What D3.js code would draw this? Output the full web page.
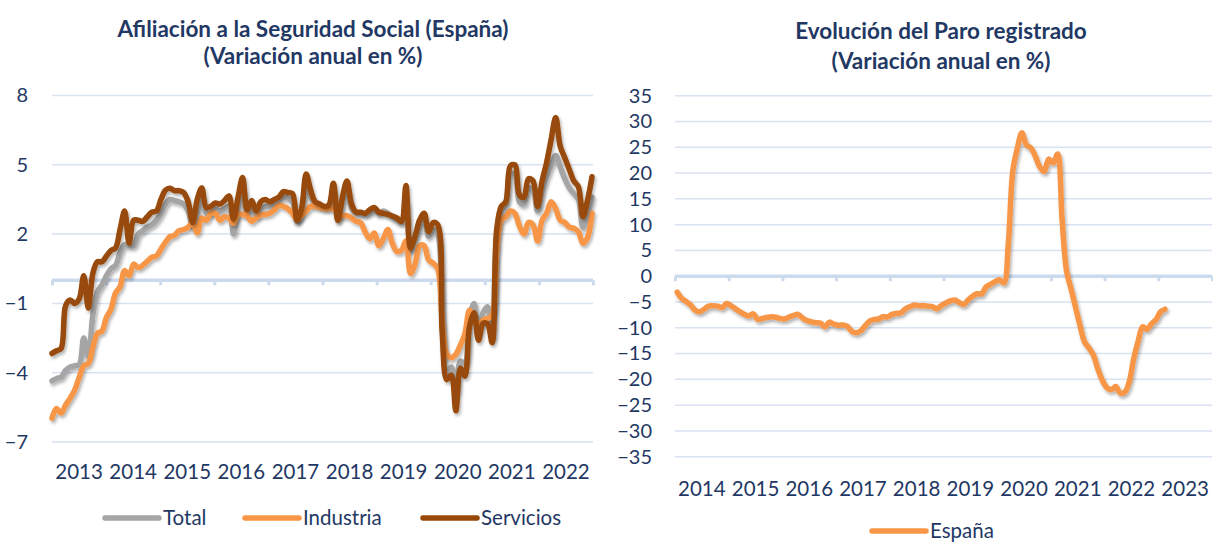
<!DOCTYPE html>
<html><head><meta charset="utf-8">
<script src="https://cdn.jsdelivr.net/npm/d3@7"></script>
<style>
body{margin:0;background:#fff}
svg{display:block}
text{font-family:Lato,"Open Sans",sans-serif}
</style>
</head><body>
<svg id="c" width="1213" height="543"></svg>
<script>
// ---------- DATA ----------
const afilTitle = ["Afiliación a la Seguridad Social (España)", "(Variación anual en %)"];
const afilYears = [2013,2014,2015,2016,2017,2018,2019,2020,2021,2022];
const afilTicks = [-7,-4,-1,2,5,8];
// monthly, Jan 2013 - Dec 2022
const totalValues = [
-4.35,-4.25,-4.2,-3.9,-3.75,-3.7,-3.65,-2.5,-3.3,-1.5,-0.5,-0.2,
0.2,0.5,0.65,1.2,1.55,1.5,1.5,2.0,2.15,2.3,2.4,2.6,
2.9,3.3,3.5,3.45,3.4,3.3,3.0,2.3,2.9,3.6,2.9,2.9,
3.1,3.0,3.1,3.2,2.0,3.2,3.9,2.8,3.1,2.8,3.1,3.2,
3.2,3.3,3.45,3.6,3.55,3.4,2.55,3.0,4.2,3.6,3.3,3.25,
3.2,3.2,3.9,2.6,3.4,3.9,3.1,2.9,2.9,2.85,2.95,3.05,
2.9,3.0,2.9,2.75,2.6,2.5,3.4,1.3,1.8,2.3,2.6,1.9,
2.2,2.0,-2.0,-4.0,-3.75,-4.9,-3.5,-3.6,-1.6,-1.0,-2.2,-1.4,
-1.15,-2.5,2.0,3.0,3.3,4.6,4.6,3.4,3.3,4.0,3.9,3.0,
3.9,4.5,5.0,5.4,4.9,4.4,4.0,3.75,3.5,2.3,2.8,3.6];
const industriaValues = [
-5.97,-5.55,-5.75,-5.4,-5.1,-4.75,-4.2,-3.7,-3.6,-2.9,-2.3,-2.2,
-1.6,-1.25,-0.55,-0.28,0.42,0.2,0.7,0.55,0.65,0.82,1.0,1.05,
1.35,1.65,1.89,1.95,2.15,2.2,2.3,2.5,2.05,2.7,2.6,2.9,
2.9,2.6,2.75,2.7,2.47,2.85,2.85,2.8,2.55,2.7,2.83,2.85,
2.9,3.05,3.25,3.2,3.1,2.9,2.61,2.8,3.0,3.2,3.2,3.15,
3.1,3.1,3.1,2.9,2.8,2.8,2.7,2.55,2.5,2.1,1.8,2.05,
1.5,1.8,2.2,1.6,1.25,1.3,1.7,0.3,0.7,1.5,1.5,0.88,
0.74,0.5,-1.8,-3.2,-3.35,-3.2,-2.8,-2.3,-1.3,-1.7,-1.9,-1.72,
-1.65,-1.5,1.2,2.6,2.75,3.0,2.9,2.35,2.0,2.5,2.4,1.7,
2.6,2.9,3.4,3.1,2.6,2.5,2.3,2.25,2.1,1.6,1.85,2.9];
const serviciosValues = [
-3.16,-3.05,-2.95,-1.1,-0.85,-1.0,-0.8,0.2,-1.2,0.3,0.8,0.8,
1.05,1.3,1.4,2.2,3.0,1.6,2.6,2.6,2.55,2.75,2.95,3.0,
3.5,3.9,3.98,3.88,3.88,3.8,3.4,2.5,3.5,4.0,3.15,3.2,
3.35,3.3,3.45,3.65,2.65,3.6,4.45,3.05,3.45,3.0,3.4,3.5,
3.4,3.5,3.6,3.84,3.8,3.75,2.6,3.1,4.6,3.9,3.4,3.3,
3.2,3.25,4.2,2.6,3.6,4.3,3.3,2.95,2.95,2.9,3.05,3.15,
2.95,2.9,2.85,2.78,2.7,2.55,4.1,1.4,1.9,2.6,2.9,2.1,
2.5,2.4,-2.3,-4.3,-4.1,-5.65,-3.8,-4.15,-2.0,-1.4,-2.6,-1.86,
-1.9,-2.7,2.2,3.2,3.4,4.95,5.0,3.7,3.6,4.4,4.3,3.2,
4.3,5.1,6.1,7.05,5.8,5.3,4.8,4.3,4.05,2.75,3.45,4.48];
const afilSeries = ["Total","Industria","Servicios"];
const afilColors = ["#A5A5A5","#F79646","#984807"];

const paroTitle = ["Evolución del Paro registrado", "(Variación anual en %)"];
const paroYears = [2014,2015,2016,2017,2018,2019,2020,2021,2022,2023];
const paroTicks = [-35,-30,-25,-20,-15,-10,-5,0,5,10,15,20,25,30,35];
// monthly, Jan 2014 - Feb 2023
const espanaValues = [
-3.1,-4.3,-4.9,-5.6,-6.6,-6.9,-6.4,-5.8,-5.75,-5.8,-6.1,-5.3,
-5.7,-6.3,-6.9,-7.4,-7.7,-7.3,-8.4,-8.2,-8.0,-7.85,-7.95,-8.2,
-8.3,-7.9,-7.6,-7.4,-8.1,-8.6,-8.85,-9.0,-9.1,-9.8,-8.9,-9.3,
-9.5,-9.45,-9.7,-10.7,-10.95,-10.6,-9.6,-8.7,-8.4,-8.3,-7.85,-7.9,
-7.4,-7.2,-7.1,-6.3,-5.9,-5.6,-5.75,-5.7,-5.8,-5.9,-6.3,-5.7,
-5.2,-4.8,-4.6,-5.1,-5.5,-4.6,-3.9,-3.4,-3.4,-2.1,-1.6,-1.05,
-0.7,-1.3,6.5,20.5,24.8,27.8,25.5,24.9,23.3,21.2,20.3,22.7,
22.0,23.7,11.0,1.0,-2.4,-6.0,-9.5,-12.7,-13.9,-15.3,-18.0,-20.2,
-21.6,-22.0,-21.4,-22.7,-22.5,-20.5,-16.0,-12.6,-9.8,-10.3,-9.2,-8.4,
-6.9,-6.4];
const paroSeries = ["España"];
const paroColor = "#F79646";

// ---------- DRAW ----------
const svg = d3.select("#c");
const navy = "#1F3864";
const gridCol = "#D9E2F1";
const axisCol = "#CCDAEE";

const defs = svg.append("defs");
const f = defs.append("filter").attr("id","sh").attr("x","-5%").attr("y","-5%").attr("width","110%").attr("height","115%");
f.append("feDropShadow").attr("dx",1.5).attr("dy",2.5).attr("stdDeviation",1.6)
  .attr("flood-color","#000").attr("flood-opacity",0.3);

function title(lines, cx, ys){
  lines.forEach((t,i)=>svg.append("text").attr("x",cx).attr("y",ys[i])
    .attr("text-anchor","middle").attr("font-weight","bold").attr("font-size",22.5)
    .attr("fill",navy).text(t));
}

function panel(o){
  const g = svg.append("g");
  const y = d3.scaleLinear().domain(o.yDomain).range(o.yRange);
  const xy = d3.scaleLinear().domain([o.years[0], o.years[o.years.length-1]+1]).range(o.xRange);
  // gridlines
  g.append("g").selectAll("line").data(o.ticks.filter(d=>d!==0)).join("line")
    .attr("x1",o.xRange[0]).attr("x2",o.xRange[1])
    .attr("y1",d=>y(d)).attr("y2",d=>y(d))
    .attr("stroke",gridCol).attr("stroke-width",1.5);
  // y axis labels
  const ya = d3.axisLeft(y).tickValues(o.ticks).tickSize(0).tickPadding(0).tickFormat(d3.format("d"));
  const yg = g.append("g").attr("transform",`translate(${o.yLabelX},0)`).call(ya);
  yg.select(".domain").remove();
  yg.selectAll("text").attr("font-size",o.yFont).attr("fill",navy).attr("font-family","Lato");
  // zero axis with ticks
  const xa = d3.axisBottom(xy).tickValues(d3.range(o.years[0], o.years[o.years.length-1]+2)).tickSize(5).tickFormat("");
  const xg = g.append("g").attr("transform",`translate(0,${y(0)})`).call(xa);
  xg.select(".domain").attr("stroke",axisCol).attr("stroke-width",3.5).attr("d",`M${o.xRange[0]},0H${o.xRange[1]}`);
  xg.selectAll(".tick line").attr("stroke",axisCol).attr("stroke-width",3);
  // year labels (centered within each year)
  g.append("g").selectAll("text").data(o.years).join("text")
    .attr("x",d=>xy(d+0.5)).attr("y",o.yearY).attr("text-anchor","middle")
    .attr("font-size",o.xFont).attr("fill",navy).text(d=>d);
  // lines
  o.series.forEach(s=>{
    g.append("path").datum(s.values)
      .attr("fill","none").attr("stroke",s.color).attr("stroke-width",5.5)
      .attr("stroke-linejoin","round").attr("stroke-linecap","round")
      .attr("filter","url(#sh)")
      .attr("d", d3.line().x((d,i)=>o.xPoint(i)).y(d=>y(d)).curve(d3.curveCatmullRom.alpha(0.5)));
  });
}

// Left panel
const xIdxL = d3.scaleLinear().domain([0, totalValues.length-1]).range([52, 592]);
panel({
  yDomain:[-7,8], yRange:[442,95.5], xRange:[52,593], years:afilYears, ticks:afilTicks,
  yLabelX:28, yFont:20, xFont:20.5, yearY:479,
  xPoint:i=>xIdxL(i),
  series:[
    {values:totalValues, color:afilColors[0]},
    {values:industriaValues, color:afilColors[1]},
    {values:serviciosValues, color:afilColors[2]}
  ]
});
// Right panel
const xYrR = d3.scaleLinear().domain([2014,2024]).range([675,1212]);
panel({
  yDomain:[-35,35], yRange:[456.7,95.7], xRange:[675,1212], years:paroYears, ticks:paroTicks,
  yLabelX:652, yFont:20, xFont:20.5, yearY:496,
  xPoint:i=>xYrR(2014 + (i+0.5)/12),
  series:[{values:espanaValues, color:paroColor}]
});

title(afilTitle, 313, [37, 64]);
title(paroTitle, 941, [39, 69]);

// Legends
function legend(items, colors, xs, y, tx){
  items.forEach((t,i)=>{
    const g = svg.append("g").attr("transform",`translate(${xs[i]},${y})`);
    g.append("line").attr("x1",0).attr("x2",54).attr("y1",0).attr("y2",0)
      .attr("stroke",colors[i]).attr("stroke-width",5.5).attr("stroke-linecap","round");
    g.append("text").attr("x",58).attr("y",7).attr("font-size",20.5).attr("fill",navy).text(t);
  });
}
legend(afilSeries, afilColors, [105, 245, 423], 518);
legend(paroSeries, [paroColor], [872], 531);
</script>
</body></html>
